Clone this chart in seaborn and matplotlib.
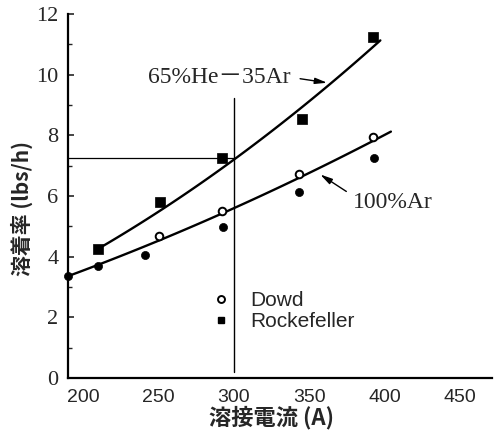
import numpy as np
import pandas as pd
import matplotlib
matplotlib.use("Agg")
import matplotlib.pyplot as plt
from matplotlib.lines import Line2D
import seaborn as sns

# Measured deposition rates (lbs/h) against welding current (A)
he_ar_current = [210, 251, 292, 345, 392]          # 65%He-35Ar, Rockefeller
he_ar_rate = [4.25, 5.8, 7.25, 8.55, 11.25]

dowd_current = [250, 292, 343, 392]                 # 100%Ar, Dowd
dowd_rate = [4.68, 5.5, 6.72, 7.96]

ar_current = [190, 210, 241, 293, 343, 393]         # 100%Ar, Rockefeller
ar_rate = [3.37, 3.7, 4.06, 4.97, 6.14, 7.26]

# Traced points along the two fitted trend curves
he_ar_curve_x = [209, 255, 300, 347, 364, 397]
he_ar_curve_y = [4.22, 5.65, 7.25, 8.93, 9.72, 11.15]
ar_curve_x = [190, 210, 250, 300, 344, 404]
ar_curve_y = [3.37, 3.70, 4.57, 5.56, 6.64, 8.12]

# Operating point
ref_current = 300
ref_rate = 7.25
ref_line_top = 9.22
ref_line_bottom = 0.2

x_ticks = [200, 250, 300, 350, 400, 450]
y_ticks = [0, 2, 4, 6, 8, 10, 12]

sns.set_theme(style="white")
plt.rcParams["font.family"] = ["Liberation Sans", "DejaVu Sans"]

fig = plt.figure(figsize=(5.02, 4.36), dpi=100)
ax = fig.add_axes([68 / 502, 58 / 436, 424 / 502, 364 / 436])

# trend curves (quadratic fits through the traced points)
curve_kw = dict(order=2, ci=None, scatter=False, truncate=True,
                line_kws=dict(color="black", lw=1.7))
sns.regplot(x=he_ar_curve_x, y=he_ar_curve_y, ax=ax, **curve_kw)
sns.regplot(x=ar_curve_x, y=ar_curve_y, ax=ax, **curve_kw)

# data points
sns.scatterplot(x=he_ar_current, y=he_ar_rate, marker="s", s=48,
                color="black", edgecolor="black", linewidth=0.5, ax=ax,
                zorder=5, clip_on=False)
sns.scatterplot(x=ar_current, y=ar_rate, marker="o", s=34,
                color="black", edgecolor="black", linewidth=0.5, ax=ax,
                zorder=5, clip_on=False)
sns.scatterplot(x=dowd_current, y=dowd_rate, marker="o", s=30,
                facecolor="white", edgecolor="black", linewidth=1.4, ax=ax,
                zorder=6, clip_on=False)

# operating point guides
ax.plot([ref_current, ref_current], [ref_line_bottom, ref_line_top],
        color="black", lw=1.0)
ax.plot([190, ref_current], [ref_rate, ref_rate], color="black", lw=0.9)

# curve labels with leader arrows
ax.text(243, 9.9, "65%He－35Ar", ha="left", va="center", fontsize=17,
        family=["Liberation Serif", "Noto Sans CJK JP"])
ax.annotate("", xy=(363.6, 9.72), xytext=(342, 9.88),
            arrowprops=dict(arrowstyle="-|>,head_length=0.6,head_width=0.15",
                            color="black", lw=1.0))
ax.text(379, 5.8, "100%Ar", ha="left", va="center", fontsize=17,
        family=["Liberation Serif", "DejaVu Serif"])
ax.annotate("", xy=(355.6, 6.76), xytext=(376, 6.1),
            arrowprops=dict(arrowstyle="-|>,head_length=0.6,head_width=0.15",
                            color="black", lw=1.0))

# legend
handles = [
    Line2D([], [], marker="o", ls="none", markersize=5, markerfacecolor="white",
           markeredgecolor="black", markeredgewidth=1.4),
    Line2D([], [], marker="s", ls="none", markersize=5, color="black"),
]
ax.legend(handles, ["Dowd", "Rockefeller"], loc="upper left",
          bbox_to_anchor=(211 / 502, 1 - 291 / 436), bbox_transform=fig.transFigure,
          frameon=False, fontsize=15, handlelength=1.0, handletextpad=0.9,
          labelspacing=0.1, borderaxespad=0, borderpad=0)

ax.set_xlim(190, 471)
ax.set_ylim(0, 12)
ax.set_xticks(x_ticks)
ax.set_yticks(y_ticks)
ax.set_yticks(range(1, 12, 2), minor=True)
ax.tick_params(axis="x", length=0, labelsize=14, pad=8)
ax.tick_params(axis="y", which="major", direction="in", length=4, width=1.2,
               labelsize=16, pad=7, left=True)
ax.tick_params(axis="y", which="minor", direction="in", length=3, width=1.0, left=True)
for lab in ax.get_yticklabels():
    lab.set_family(["Liberation Serif", "DejaVu Serif"])

for side in ("top", "right"):
    ax.spines[side].set_visible(False)
for side in ("left", "bottom"):
    ax.spines[side].set_color("black")
    ax.spines[side].set_linewidth(1.6)

ax.set_xlabel("溶接電流 (A)", fontsize=16, fontweight="bold",
              family=["Noto Sans CJK JP", "DejaVu Sans"])
ax.set_ylabel("溶着率 (lbs/h)", fontsize=15, fontweight="bold",
              family=["Noto Sans CJK JP", "DejaVu Sans"])
ax.xaxis.set_label_coords(0.481, -0.11)
ax.yaxis.set_label_coords(-0.108, 0.467)
ax.xaxis.label.set_verticalalignment("center")
ax.yaxis.label.set_verticalalignment("center")

fig.savefig("out.png", dpi=100)
